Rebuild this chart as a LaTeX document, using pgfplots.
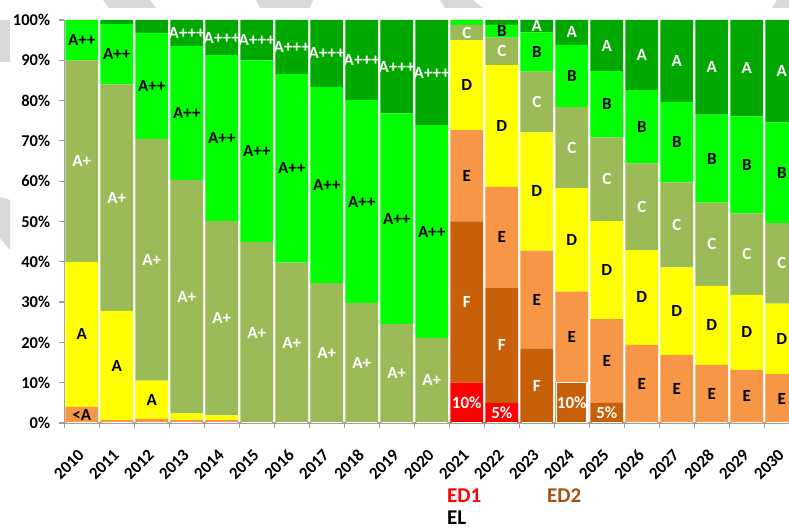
\documentclass[border=0pt]{standalone}
\usepackage{pgfplots}
\pgfplotsset{compat=1.18}
\usepackage{pgfplotstable}
\usepackage{fontspec}
\setmainfont{Carlito}

\definecolor{cRed}{RGB}{255,0,0}
\definecolor{cDkOr}{RGB}{200,96,10}
\definecolor{cLtOr}{RGB}{247,150,70}
\definecolor{cYel}{RGB}{255,255,0}
\definecolor{cOli}{RGB}{155,187,89}
\definecolor{cGrn}{RGB}{0,255,0}
\definecolor{cDkG}{RGB}{0,168,0}
\definecolor{cEDtwo}{RGB}{158,84,20}
\definecolor{axgray}{RGB}{160,160,160}
\definecolor{wm}{RGB}{217,217,217}

\newcommand{\lblfont}{\bfseries\fontsize{17bp}{20bp}\selectfont}
\newcommand{\tickfont}{\bfseries\fontsize{16.5bp}{20bp}\selectfont}
\newcommand{\yearfont}{\bfseries\fontsize{17bp}{20bp}\selectfont}

\pgfplotstableread{
x red f e d c b a
0 0 0 4.0 36.0 50.0 10.0 0
1 0 0 0.7 27.1 56.2 15.0 1.0
2 0 0 1.0 9.5 60.0 26.3 3.2
3 0 0 0.7 1.7 57.9 33.2 6.5
4 0 0 0.7 1.2 48.2 41.2 8.7
5 0 0 0 0 44.9 45.1 10.0
6 0 0 0 0 39.8 46.8 13.4
7 0 0 0 0 34.7 48.7 16.6
8 0 0 0 0 29.8 50.3 19.9
9 0 0 0 0 24.6 52.2 23.2
10 0 0 0 0 21.1 52.8 26.1
11 10 40 22.7 22.3 3.8 1.2 0
12 5 28.6 25.0 30.2 6.8 3.2 1.2
13 0 18.4 24.4 29.3 15.1 9.7 3.1
14 0 10 22.6 25.7 20.1 15.4 6.2
15 0 5 20.8 24.3 20.8 16.4 12.7
16 0 0 19.4 23.5 21.5 18.2 17.4
17 0 0 16.9 21.7 21.1 19.9 20.4
18 0 0 14.4 19.6 20.7 21.8 23.5
19 0 0 13.2 18.6 20.2 24.1 23.9
20 0 0 12.1 17.5 20.0 25.0 25.4
}\shares

\pgfplotstableread{
x y lab
0 65 A+
1 55.9 A+
2 40.5 A+
3 31.35 A+
3 96.75 A+++
4 26 A+
4 95.65 A+++
5 22.45 A+
5 95 A+++
6 19.9 A+
6 93.3 A+++
7 17.35 A+
7 91.7 A+++
8 14.9 A+
8 90.05 A+++
9 12.3 A+
9 88.4 A+++
10 10.55 A+
10 86.95 A+++
11 5 10\%
11 30 F
11 96.9 C
12 2.5 5\%
12 19.3 F
12 92.2 C
13 9.2 F
13 79.65 C
13 98.45 A
14 5 10\%
14 68.35 C
14 96.9 A
15 2.5 5\%
15 60.5 C
15 93.65 A
16 53.65 C
16 91.3 A
17 49.15 C
17 89.8 A
18 44.35 C
18 88.25 A
19 41.9 C
19 88.05 A
20 39.6 C
20 87.3 A
}\whitelabels

\pgfplotstableread{
x y lab
0 2 <A
0 22 A
0 95 A++
1 14.25 A
1 91.5 A++
2 5.75 A
2 83.65 A++
3 76.9 A++
4 70.7 A++
5 67.45 A++
6 63.2 A++
7 59.05 A++
8 54.95 A++
9 50.7 A++
10 47.5 A++
11 61.35 E
11 83.85 D
12 46.1 E
12 73.7 D
12 97.2 B
13 30.6 E
13 57.45 D
13 92.05 B
14 21.3 E
14 45.45 D
14 86.1 B
15 15.4 E
15 37.95 D
15 79.1 B
16 9.7 E
16 31.15 D
16 73.5 B
17 8.45 E
17 27.75 D
17 69.65 B
18 7.2 E
18 24.2 D
18 65.6 B
19 6.6 E
19 22.5 D
19 64.05 B
20 6.05 E
20 20.85 D
20 62.1 B
}\blacklabels

\pgfplotstableread{
x v
0 0
1 0
2 0
3 0
4 0
5 0
6 0
7 0
8 0
9 0
10 0
11 0
12 0
13 0
14 10
15 0
16 0
17 0
18 0
19 0
20 0
}\edtwobox

\begin{document}
\begin{tikzpicture}
\useasboundingbox (0,0) rectangle (789bp,528bp);
\clip (0,0) rectangle (789bp,528bp);
% light grey background decoration
\fill[wm] (103bp,528bp) -- (150bp,528bp) -- (156bp,520bp) -- (109bp,520bp) -- cycle;
\fill[wm] (256bp,528bp) -- (313bp,528bp) -- (310bp,520bp) -- (260bp,520bp) -- cycle;
\fill[wm] (440bp,528bp) -- (473bp,528bp) -- (483bp,520bp) -- (445bp,520bp) -- cycle;
\fill[wm] (777bp,528bp) -- (789bp,528bp) -- (789bp,520bp) -- (772bp,520bp) -- cycle;
\fill[wm] (0bp,508bp) -- (10bp,508bp) -- (10bp,466bp) -- (0bp,466bp) -- cycle;
\fill[wm] (0bp,331bp) -- (10bp,328bp) -- (10bp,278bp) -- (0bp,290bp) -- cycle;

\begin{axis}[
  at={(64.3bp,105bp)}, anchor=south west,
  scale only axis, width=735bp, height=403bp,
  xmin=-0.5, xmax=20.5, ymin=0, ymax=100,
  ybar stacked, bar width=32.7bp,
  axis x line*=bottom, axis y line*=left,
  axis line style={draw=axgray, line width=1.2bp, -},
  tick align=outside, major tick length=5bp,
  tick style={draw=axgray, line width=1.2bp},
  xtick={-0.5,0.5,1.5,2.5,3.5,4.5,5.5,6.5,7.5,8.5,9.5,10.5,11.5,12.5,13.5,14.5,15.5,16.5,17.5,18.5,19.5,20.5},
  xticklabels={2010,2011,2012,2013,2014,2015,2016,2017,2018,2019,2020,2021,2022,2023,2024,2025,2026,2027,2028,2029,2030,{}},
  ytick={0,10,20,30,40,50,60,70,80,90,100},
  yticklabels={0\%,10\%,20\%,30\%,40\%,50\%,60\%,70\%,80\%,90\%,100\%},
  tick label style={font=\tickfont},
  xticklabel style={font=\yearfont, xshift=17bp, yshift=-24bp, rotate=45, anchor=east, inner sep=0pt},
  yticklabel style={xshift=-9bp, anchor=east, inner sep=0pt},
]
\addplot[fill=cRed, draw=none] table[x=x, y=red]{\shares};
\addplot[fill=cDkOr, draw=none] table[x=x, y=f]{\shares};
\addplot[fill=cLtOr, draw=none] table[x=x, y=e]{\shares};
\addplot[fill=cYel, draw=none] table[x=x, y=d]{\shares};
\addplot[fill=cOli, draw=none] table[x=x, y=c]{\shares};
\addplot[fill=cGrn, draw=none] table[x=x, y=b]{\shares};
\addplot[fill=cDkG, draw=none] table[x=x, y=a]{\shares};
\end{axis}

% white frame of the 2024 ED2 block, drawn from its own data
\begin{axis}[
  at={(64.3bp,105bp)}, anchor=south west,
  scale only axis, width=735bp, height=403bp,
  xmin=-0.5, xmax=20.5, ymin=0, ymax=100,
  hide axis, ybar, bar width=30.5bp,
]
\addplot[fill=none, draw=white, line width=1.2bp] table[x=x, y=v]{\edtwobox};
\end{axis}

\begin{axis}[
  at={(64.3bp,105bp)}, anchor=south west,
  scale only axis, width=735bp, height=403bp,
  xmin=-0.5, xmax=20.5, ymin=0, ymax=100,
  hide axis, clip=false,
]
\addplot[draw=none, mark=none, nodes near coords, point meta=explicit symbolic,
  every node near coord/.append style={anchor=center, inner sep=0pt, text=white, font=\lblfont}]
  table[x=x, y=y, meta=lab]{\whitelabels};
\addplot[draw=none, mark=none, nodes near coords, point meta=explicit symbolic,
  every node near coord/.append style={anchor=center, inner sep=0pt, text=black, font=\lblfont}]
  table[x=x, y=y, meta=lab]{\blacklabels};
\end{axis}

\node[anchor=base west, inner sep=0pt, text=cRed, font=\bfseries\fontsize{21bp}{24bp}\selectfont] at (447bp,26bp) {ED1};
\node[anchor=base west, inner sep=0pt, text=cEDtwo, font=\bfseries\fontsize{21bp}{24bp}\selectfont] at (547bp,26bp) {ED2};
\node[anchor=base west, inner sep=0pt, text=black, font=\bfseries\fontsize{21bp}{24bp}\selectfont] at (447bp,4bp) {EL};
\end{tikzpicture}
\end{document}
